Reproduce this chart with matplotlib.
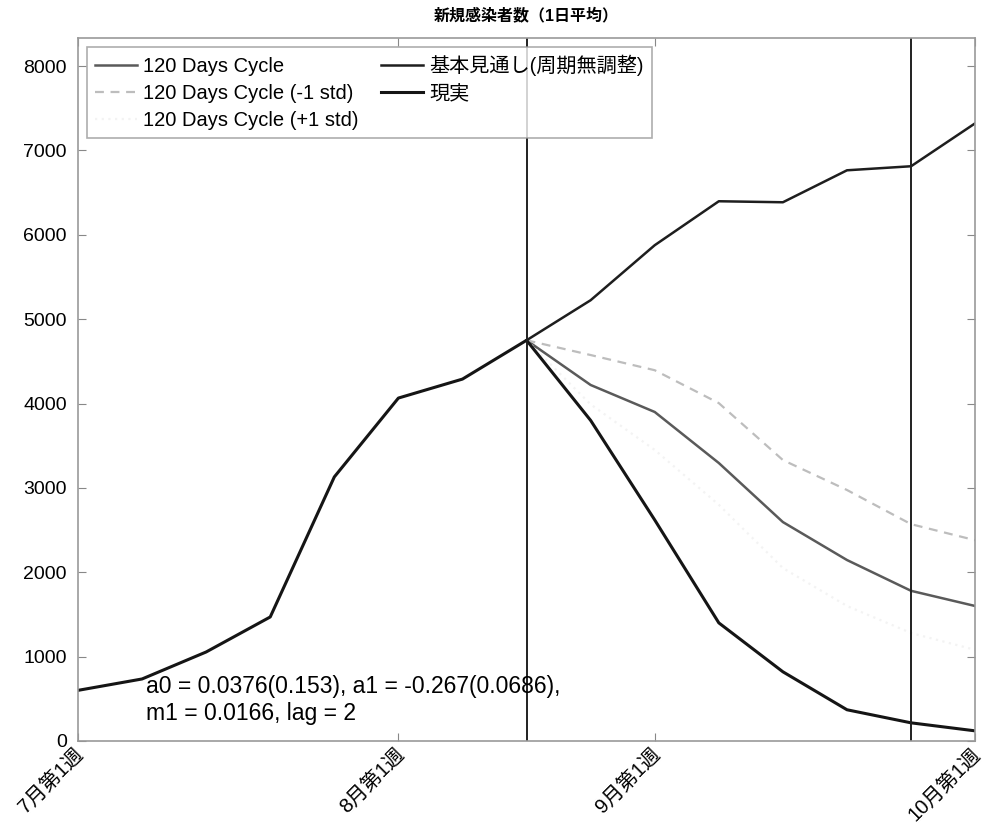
import matplotlib
matplotlib.use("Agg")
import matplotlib.pyplot as plt
from matplotlib.transforms import ScaledTranslation
import numpy as np

plt.rcParams['font.family'] = ['Liberation Sans', 'Noto Sans CJK JP', 'DejaVu Sans']

# Weeks (0 = 7月第1週 ... 14 = 10月第1週)
weeks_all = list(range(15))
reality = [600, 735, 1055, 1470, 3130, 4065, 4290, 4750, 3800, 2620, 1400, 820, 370, 215, 120]

weeks_fc = list(range(7, 15))
basic = [4750, 5225, 5877, 6398, 6386, 6765, 6813, 7322]
cycle = [4750, 4220, 3900, 3295, 2595, 2145, 1780, 1600]
cycle_m1 = [4750, 4575, 4395, 4005, 3330, 2975, 2570, 2380]
cycle_p1 = [4750, 3990, 3450, 2800, 2050, 1600, 1280, 1080]

vlines = [7, 13]
tick_pos = [0, 5, 9, 14]
tick_labels = ['7月第1週', '8月第1週', '9月第1週', '10月第1週']

title = '新規感染者数（1日平均）'
note = 'a0 = 0.0376(0.153), a1 = -0.267(0.0686),\nm1 = 0.0166, lag = 2'

fig = plt.figure(figsize=(9.87, 8.32), dpi=100)
ax = fig.add_axes([0.079, 0.1094, 0.909, 0.8446])

l1, = ax.plot(weeks_fc, cycle, color='#5a5a5a', lw=1.8, label='120 Days Cycle')
l2, = ax.plot(weeks_fc, cycle_m1, color='#bdbdbd', lw=1.6, ls=(0, (4, 3)), label='120 Days Cycle (-1 std)')
l3, = ax.plot(weeks_fc, cycle_p1, color='#f3f3f3', lw=1.6, ls=(0, (1, 2)), label='120 Days Cycle (+1 std)')
l4, = ax.plot(weeks_fc, basic, color='#1e1e1e', lw=1.8, label='基本見通し(周期無調整)')
l5, = ax.plot(weeks_all, reality, color='#151515', lw=2.2, label='現実')

for v in vlines:
    ax.axvline(v, color='#202020', lw=1.4)

ax.set_xlim(0, 14)
ax.set_ylim(0, 8330)
ax.set_yticks([0, 1000, 2000, 3000, 4000, 5000, 6000, 7000, 8000])
ax.set_xticks(tick_pos)
ax.set_xticklabels(tick_labels, rotation=45, ha='right', va='center', rotation_mode='anchor')
ax.tick_params(direction='in', top=True, right=True, labelsize=14, length=6, color='#888888')
ax.tick_params(axis='y', pad=8)
ax.tick_params(axis='x', labelsize=14.5, pad=8)
for lab in ax.get_xticklabels():
    lab.set_transform(lab.get_transform() + ScaledTranslation(2.5 / 72, 0, fig.dpi_scale_trans))
for s in ax.spines.values():
    s.set_color('#999999')
    s.set_linewidth(1.2)

ax.set_title(title, fontsize=11.5, fontweight='bold', pad=13)

ax.text(1.06, 190, note, fontsize=16.5, ha='left', va='bottom', linespacing=1.2)

leg = ax.legend(handles=[l1, l2, l3, l4, l5], ncol=2, loc='upper left',
                bbox_to_anchor=(0.01, 0.988), fontsize=14.5, frameon=True, fancybox=False,
                handlelength=2.1, handletextpad=0.3, columnspacing=1.1,
                labelspacing=0.4, borderpad=0.4, borderaxespad=0.0)
leg.get_frame().set_edgecolor('#999999')
leg.get_frame().set_linewidth(1.2)

fig.savefig('out.png', dpi=100)
